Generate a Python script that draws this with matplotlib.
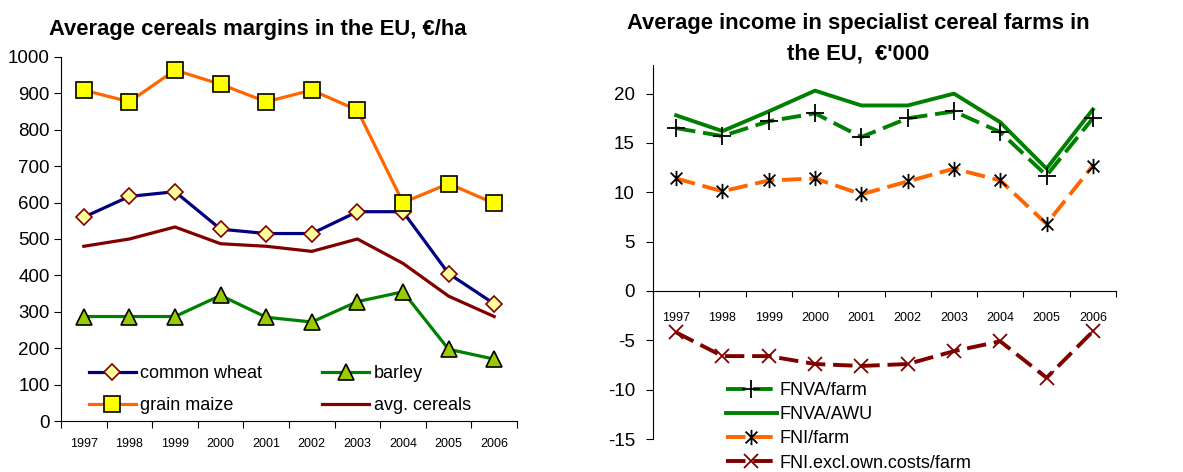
import matplotlib.pyplot as plt
from matplotlib.path import Path

plt.rcParams['font.family'] = ['Liberation Sans', 'DejaVu Sans']
plt.rcParams['axes.unicode_minus'] = False

years = ['1997', '1998', '1999', '2000', '2001', '2002', '2003', '2004', '2005', '2006']

# Left chart: margins, EUR/ha
common_wheat = [560, 617, 630, 527, 515, 515, 575, 575, 405, 322]
barley = [287, 287, 287, 345, 285, 272, 328, 355, 197, 170]
grain_maize = [909, 877, 964, 925, 877, 909, 854, 600, 652, 598]
avg_cereals = [480, 500, 533, 487, 480, 466, 500, 433, 343, 287]

# Right chart: income, EUR '000
fnva_farm = [16.5, 15.7, 17.2, 18.0, 15.6, 17.5, 18.2, 16.1, 11.7, 17.5]
fnva_awu = [17.8, 16.2, 18.2, 20.3, 18.8, 18.8, 20.0, 17.1, 12.4, 18.4]
fni_farm = [11.4, 10.1, 11.2, 11.4, 9.8, 11.1, 12.4, 11.2, 6.8, 12.7]
fni_excl = [-4.2, -6.6, -6.6, -7.4, -7.6, -7.4, -6.1, -5.1, -8.8, -4.1]

W, H = 1183, 472
fig = plt.figure(figsize=(W / 100, H / 100), dpi=100)

def px_axes(x0, y0, x1, y1):
    return fig.add_axes([x0 / W, 1 - y1 / H, (x1 - x0) / W, (y1 - y0) / H])

x = list(range(len(years)))
bounds = [i - 0.5 for i in range(len(years) + 1)]

# ---------- left chart ----------
ax1 = px_axes(61, 57, 517, 421)
l_wheat, = ax1.plot(x, common_wheat, color='#000080', lw=2.3, marker='D', ms=8,
                    mfc='#FFFF99', mec='#800000', mew=1.2, label='common wheat', zorder=3)
l_barley, = ax1.plot(x, barley, color='#008000', lw=2.3, marker='^', ms=11,
                     mfc='#99CC00', mec='black', mew=1.2, label='barley', zorder=3)
l_maize, = ax1.plot(x, grain_maize, color='#FF6600', lw=2.3, marker='s', ms=12,
                    mfc='#FFFF00', mec='black', mew=1.2, label='grain maize', zorder=3)
l_avg, = ax1.plot(x, avg_cereals, color='#800000', lw=2.3, label='avg. cereals', zorder=2)

ax1.set_xlim(-0.5, len(years) - 0.5)
ax1.set_ylim(0, 1000)
ax1.set_yticks(range(0, 1001, 100))
ax1.tick_params(axis='y', labelsize=13.5, length=5, direction='out', pad=3)
ax1.set_xticks(bounds)
ax1.set_xticklabels([])
ax1.tick_params(axis='x', which='major', length=5, direction='out')
ax1.set_xticks(x, minor=True)
ax1.set_xticklabels(years, minor=True, fontsize=9)
ax1.tick_params(axis='x', which='minor', length=0, pad=12)
for s in ['top', 'right']:
    ax1.spines[s].set_visible(False)

# row-wise order: wheat, barley / maize, avg
ax1.legend([l_wheat, l_maize, l_barley, l_avg],
           ['common wheat', 'grain maize', 'barley', 'avg. cereals'],
           ncol=2, loc='upper left', bbox_to_anchor=(89 / W, 1 - 365 / H),
           bbox_transform=fig.transFigure, frameon=False, fontsize=13,
           handlelength=2.6, handletextpad=0.25, columnspacing=3.3,
           labelspacing=0.85, borderpad=0, borderaxespad=0)

fig.text(258 / W, 1 - 29 / H, 'Average cereals margins in the EU, \u20ac/ha',
         ha='center', va='center', fontsize=15.8, fontweight='bold')

# ---------- right chart ----------
# asterisk marker: X plus a vertical bar
ast = Path([(-1, -1), (1, 1), (-1, 1), (1, -1), (0, -1.3), (0, 1.3)],
           [Path.MOVETO, Path.LINETO, Path.MOVETO, Path.LINETO, Path.MOVETO, Path.LINETO])

ax2 = px_axes(653, 65, 1116, 439)
ax2.plot(x, fnva_farm, color='#008000', lw=2.8, ls=(0, (5, 2)), marker='+',
         ms=13, mec='black', mew=1.3, label='FNVA/farm', zorder=3)
ax2.plot(x, fnva_awu, color='#008000', lw=2.8, label='FNVA/AWU', zorder=2)
ax2.plot(x, fni_farm, color='#FF6600', lw=2.8, ls=(0, (5, 2)), marker=ast,
         ms=11, mec='black', mfc='none', mew=1.3, label='FNI/farm', zorder=3)
ax2.plot(x, fni_excl, color='#800000', lw=2.8, ls=(0, (5, 2)), marker='x',
         ms=10, mec='#800000', mew=1.3, label='FNI.excl.own.costs/farm', zorder=3)

ax2.set_xlim(-0.5, len(years) - 0.5)
ax2.set_ylim(-15, 22.9)
ax2.set_yticks(range(-15, 21, 5))
ax2.tick_params(axis='y', labelsize=13.5, length=5, direction='out', pad=8)
ax2.spines['bottom'].set_position(('data', 0))
ax2.set_xticks(bounds)
ax2.set_xticklabels([])
ax2.tick_params(axis='x', which='major', length=4, direction='out')
ax2.set_xticks(x, minor=True)
ax2.set_xticklabels(years, minor=True, fontsize=9)
ax2.tick_params(axis='x', which='minor', length=0, pad=15)
for s in ['top', 'right']:
    ax2.spines[s].set_visible(False)

ax2.legend(loc='upper left', bbox_to_anchor=(726 / W, 1 - 382 / H),
           bbox_transform=fig.transFigure, frameon=False, fontsize=13,
           handlelength=2.8, handletextpad=0.15, labelspacing=0.4,
           borderpad=0, borderaxespad=0)

fig.text(858 / W, 1 - 23 / H, 'Average income in specialist cereal farms in',
         ha='center', va='center', fontsize=15.8, fontweight='bold')
fig.text(858 / W, 1 - 54 / H, "the EU,  \u20ac'000",
         ha='center', va='center', fontsize=15.8, fontweight='bold')

fig.savefig('out.png', dpi=100)
